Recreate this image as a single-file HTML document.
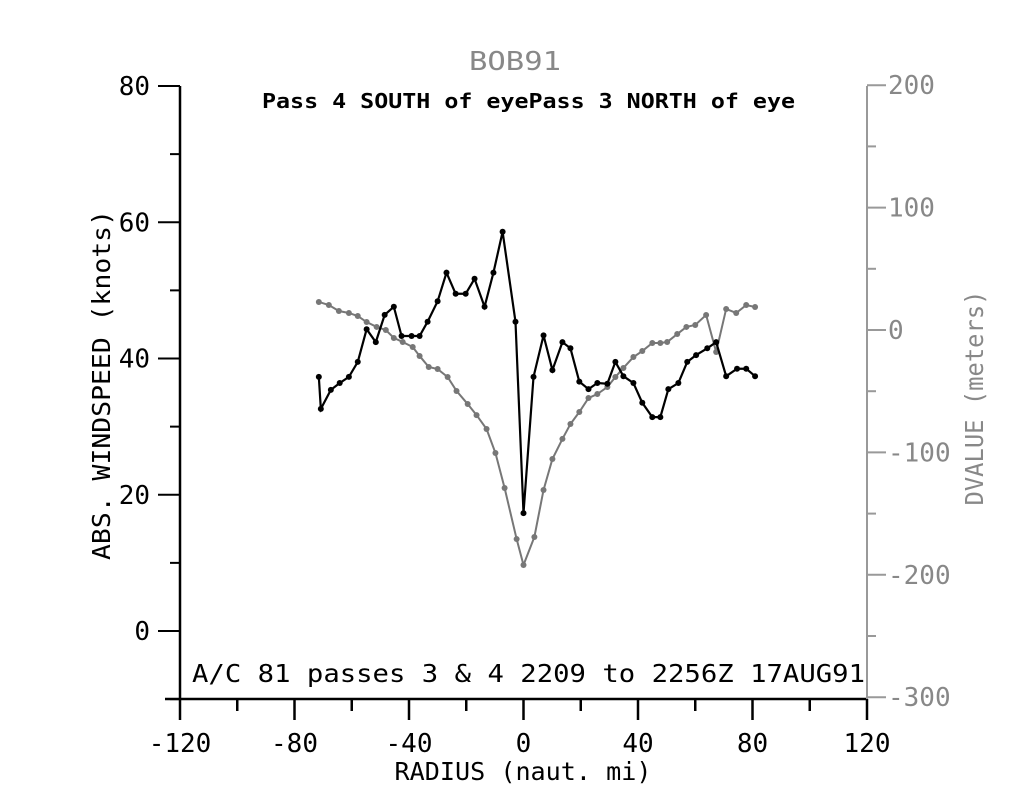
<!DOCTYPE html>
<html><head><meta charset="utf-8"><style>
html,body{margin:0;padding:0;background:#fff;}
svg{display:block;}
text{font-family:"DejaVu Sans Mono","Liberation Mono",monospace;}
</style></head><body>
<svg id="chart" width="1026" height="800" viewBox="0 0 1026 800">
<text x="515" y="70" font-size="26" fill="#888" text-anchor="middle" textLength="92" lengthAdjust="spacingAndGlyphs">BOB91</text>
<text x="262" y="108" font-size="20" font-weight="bold" font-family="Liberation Sans,sans-serif" textLength="533" lengthAdjust="spacingAndGlyphs">Pass  4 SOUTH of eyePass  3 NORTH of eye</text>
<text x="192" y="682" font-size="25" textLength="673" lengthAdjust="spacingAndGlyphs">A/C 81 passes  3 &amp;  4    2209 to 2256Z 17AUG91</text>
<text x="523" y="780" font-size="25" text-anchor="middle" textLength="257" lengthAdjust="spacingAndGlyphs">RADIUS (naut. mi)</text>
<text transform="translate(110,385) rotate(-90)" font-size="25" text-anchor="middle" textLength="350" lengthAdjust="spacingAndGlyphs">ABS. WINDSPEED (knots)</text>
<text transform="translate(983,398) rotate(-90)" font-size="25" fill="#888" text-anchor="middle" textLength="215" lengthAdjust="spacingAndGlyphs">DVALUE (meters)</text>
<g id="axes"></g>
<g id="series"></g>
</svg>
<script>
const xTicks=[-120,-80,-40,0,40,80,120];
const yTicks=[80,60,40,20,0];
const y2Ticks=[200,100,0,-100,-200,-300];
const windX=[-71.5,-70.8,-67.3,-64.2,-61.0,-57.9,-54.8,-51.6,-48.5,-45.3,-42.6,-39.1,-36.3,-33.5,-30.0,-26.9,-23.7,-20.2,-17.1,-13.6,-10.5,-7.3,-2.8,0,3.5,7.0,10.1,13.6,16.4,19.5,22.7,25.8,29.3,32.1,34.9,38.4,41.5,45.0,47.8,50.6,54.1,57.2,60.3,64.2,67.3,70.8,74.6,77.8,80.9];
const windY=[37.3,32.6,35.4,36.4,37.3,39.5,44.3,42.4,46.4,47.6,43.3,43.3,43.3,45.4,48.4,52.6,49.5,49.5,51.7,47.6,52.6,58.6,45.4,17.3,37.3,43.4,38.3,42.4,41.5,36.6,35.5,36.4,36.3,39.5,37.4,36.4,33.5,31.4,31.4,35.5,36.4,39.5,40.5,41.5,42.4,37.4,38.5,38.5,37.4];
const dvalX=[-71.5,-68,-64.5,-61,-57.9,-54.8,-51.3,-48.1,-45.3,-42.2,-38.7,-36.3,-33.1,-30,-26.5,-23.4,-19.5,-16.4,-12.9,-9.8,-6.6,-2.4,0,3.8,7,10.1,13.6,16.4,19.5,22.7,25.8,29.3,32.1,34.9,38.4,41.5,45,47.8,50.2,53.7,56.9,60,63.8,67.3,70.8,74.3,77.8,80.9];
const dvalY=[22.9,20.4,15.5,13.9,11.4,6.5,2.5,0,-6.5,-9.8,-13.9,-21.2,-30.2,-31.9,-38.4,-49.8,-60.5,-69.5,-80.9,-100.5,-129.1,-170.8,-192,-169.1,-130.7,-105.4,-89,-76.8,-67,-55.6,-52.3,-46.6,-38.4,-31,-22.1,-17.2,-10.6,-10.6,-9.8,-3.3,2.5,4.1,12.3,-18,17.2,13.9,20.4,18.8];
const NS="http://www.w3.org/2000/svg";
const X0=180,X1=867;
const sx=v=>X0+(v+120)*(X1-X0)/240;
const sy=v=>631-v*6.8125;
const sy2=v=>330-v*1.224;
const axes=document.getElementById('axes'),ser=document.getElementById('series');
function mk(tag,attrs,parent){const e=document.createElementNS(NS,tag);for(const k in attrs)e.setAttribute(k,attrs[k]);parent.appendChild(e);return e;}
let e;
e=mk('line',{x1:X0,y1:86,x2:X0,y2:699,stroke:'#000','stroke-width':2.5},axes);


e=mk('line',{x1:165,y1:699,x2:X1,y2:699,stroke:'#000','stroke-width':2.5},axes);


e=mk('line',{x1:X1,y1:86,x2:X1,y2:699,stroke:'#999','stroke-width':2},axes);


for(let v=-120;v<=120;v+=20){const maj=v%40===0;
 e=mk('line',{x1:sx(v),y1:699,x2:sx(v),y2:maj?720:711,stroke:'#000','stroke-width':2.5},axes);
 
 }
xTicks.forEach(v=>{e=mk('text',{x:sx(v),y:752,'font-size':26,'text-anchor':'middle'},axes);e.textContent=v;
 
 });
for(let v=-10;v<=80;v+=10){const maj=v%20===0;
 e=mk('line',{x1:maj?158:170,y1:sy(v),x2:X0,y2:sy(v),stroke:'#000','stroke-width':2},axes);
 
 }
yTicks.forEach(v=>{e=mk('text',{x:150,y:sy(v)+9,'font-size':26,'text-anchor':'end'},axes);e.textContent=v;
 
 });
for(let v=-300;v<=200;v+=50){const maj=v%100===0;
 e=mk('line',{x1:X1,y1:sy2(v),x2:maj?886:876,y2:sy2(v),stroke:'#999','stroke-width':2},axes);
 
 }
y2Ticks.forEach(v=>{e=mk('text',{x:888,y:sy2(v)+9,'font-size':26,fill:'#888'},axes);e.textContent=v;
 
 });
function series(xs,ys,fy,col,w,name){
 e=mk('polyline',{points:xs.map((x,i)=>sx(x)+','+fy(ys[i])).join(' '),fill:'none',stroke:col,'stroke-width':w},ser);
 
 
 xs.forEach((x,i)=>{e=mk('circle',{cx:sx(x),cy:fy(ys[i]),r:3,fill:col},ser);
  
  });
}
series(dvalX,dvalY,sy2,'#777',2,'dvalue');
series(windX,windY,sy,'#000',2.2,'windspeed');
</script>
</body></html>
